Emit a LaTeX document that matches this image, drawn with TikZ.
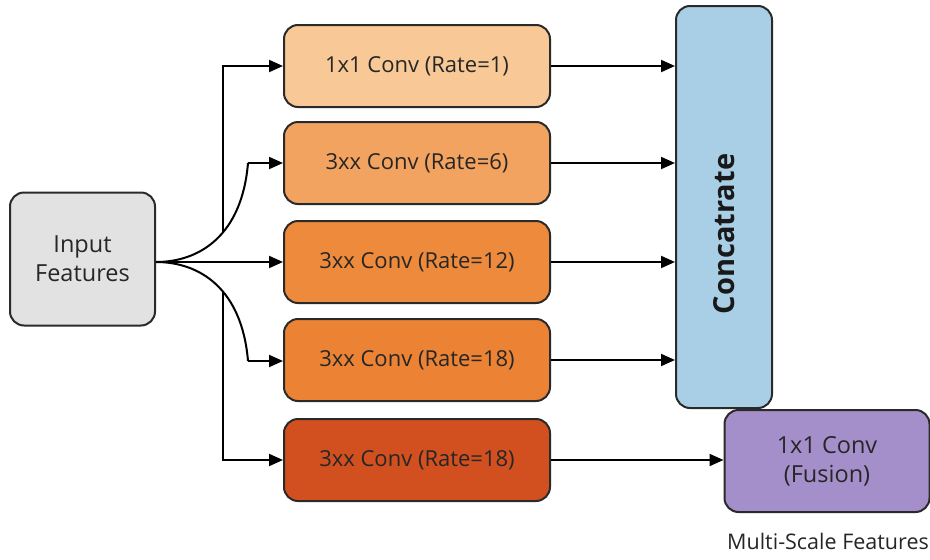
\documentclass[tikz,border=0pt]{standalone}
\usepackage{fontspec}
\setmainfont{Open Sans}
\usetikzlibrary{arrows.meta}
\definecolor{inputgray}{HTML}{E2E2E2}
\definecolor{convA}{HTML}{F8C996}
\definecolor{convB}{HTML}{F2A360}
\definecolor{convC}{HTML}{EE8A3C}
\definecolor{convD}{HTML}{EC8334}
\definecolor{convE}{HTML}{D2501F}
\definecolor{concatblue}{HTML}{A8CFE6}
\definecolor{fusionpurple}{HTML}{A58FCA}
\definecolor{edgegray}{HTML}{2A2A2A}
\begin{document}
\begin{tikzpicture}[x=1pt,y=-1pt,
  block/.style={draw=edgegray,line width=2pt,rounded corners=14pt,align=center,
    font=\fontsize{22}{27}\selectfont,text=black!85,inner sep=0pt},
  convbox/.style={block,minimum width=266pt,minimum height=82pt},
  link/.style={line width=2pt,-{Triangle[length=14pt,width=12pt]}},
  wire/.style={line width=2pt}]
\useasboundingbox (0,0) rectangle (930,560);
% input
\node[block,fill=inputgray,minimum width=145pt,minimum height=133pt,
  font=\fontsize{23.5}{29}\selectfont] (input) at (82.5,259) {Input\\Features};
% branches
\node[convbox,fill=convA] (convone) at (417,66) {1x1 Conv (Rate=1)};
\node[convbox,fill=convB] (convsix) at (417,163) {3xx Conv (Rate=6)};
\node[convbox,fill=convC] (convtwelve) at (417,262) {3xx Conv (Rate=12)};
\node[convbox,fill=convD] (conveighteen) at (417,360) {3xx Conv (Rate=18)};
\node[convbox,fill=convE] (convlast) at (417,460) {3xx Conv (Rate=18)};
% concat and fusion
\node[block,fill=concatblue,minimum width=96pt,minimum height=402pt] (concat) at (724,207) {};
\node[rotate=90,font=\fontsize{29}{34}\selectfont\bfseries,text=black!90] (concatlabel) at (724,234) {Concatrate};
\node[block,fill=fusionpurple,minimum width=205pt,minimum height=102pt,
  font=\fontsize{23.5}{29}\selectfont] (fusion) at (827,461) {1x1 Conv\\(Fusion)};
\node[font=\fontsize{21.5}{26}\selectfont,text=black!85] (outlabel) at (828,541) {Multi-Scale Features};
% split points
\coordinate (split) at (input.east |- convtwelve);
\coordinate (upturn) at (248,163);
\coordinate (downturn) at (248,361);
\coordinate (upmeet) at (223,232);
\coordinate (downmeet) at (223,292);
\coordinate (topcorner) at (223,66);
\coordinate (botcorner) at (223,460);
\draw[wire] (split) .. controls (200,262) and (242,235) .. (upturn);
\draw[link] (upturn) -- (convsix.west);
\draw[wire] (split) .. controls (200,262) and (242,289) .. (downturn);
\draw[link] (downturn) -- (downturn -| conveighteen.west);
\draw[link] (split) -- (convtwelve.west);
\draw[link] (upmeet) -- (topcorner) -- (convone.west);
\draw[link] (downmeet) -- (botcorner) -- (convlast.west);
% to concat
\draw[link] (convone.east) -- (convone.east -| concat.west);
\draw[link] (convsix.east) -- (convsix.east -| concat.west);
\draw[link] (convtwelve.east) -- (convtwelve.east -| concat.west);
\draw[link] (conveighteen.east) -- (conveighteen.east -| concat.west);
\draw[link] (convlast.east) -- (convlast.east -| fusion.west);
\end{tikzpicture}
\end{document}
